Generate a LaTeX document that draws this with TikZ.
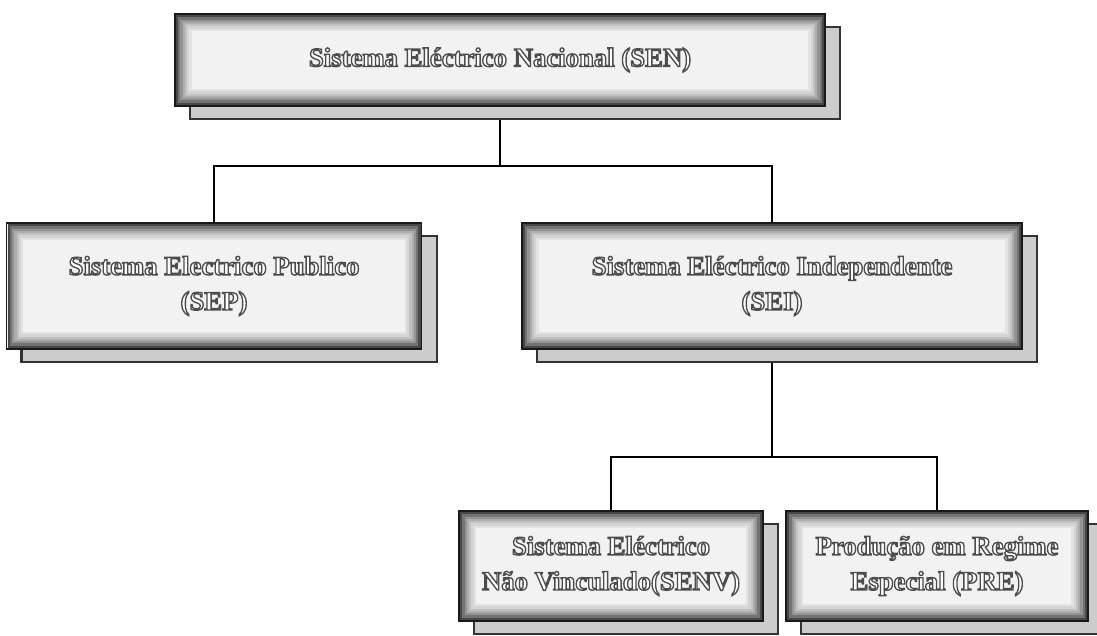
\documentclass[tikz,border=0pt]{standalone}
\usepackage{fontspec}
\setmainfont{Liberation Serif}
\newfontfamily\outlfont{Liberation Serif}[UprightFont={* Bold},FakeBold=5]
\usetikzlibrary{positioning,shadows,backgrounds}
% white letters with a grey stroke round them
\newcommand{\greystroke}{\color{white}\special{pdf:literal direct 0.3 G}}

\begin{document}
\begin{tikzpicture}[x=0.025cm,y=-0.025cm,
  sysbox/.style={rectangle,inner sep=0pt,align=center,
    font=\fontsize{19}{25}\selectfont\outlfont,
    execute at begin node=\greystroke,
    fill=black!5,draw=black!90,line width=1.2pt,
    general shadow={fill=black!20,draw=black!80,line width=1.5pt,
      shadow xshift=0.375cm,shadow yshift=-0.325cm},
    path picture={\foreach \i/\c in {1/72,2/55,3/42,4/32,5/24,6/17,7/11}{
      \draw[black!\c,line width=1.7pt]
        ([shift={({\i*1.6pt},{\i*1.6pt})}]path picture bounding box.south west) rectangle
        ([shift={({-\i*1.6pt},{-\i*1.6pt})}]path picture bounding box.north east);}}},
  conn/.style={line width=2pt,black}
]
\useasboundingbox (0,0) rectangle (1097,636);

% Top: national system
\node[sysbox,minimum width=16.25cm,minimum height=2.3cm] (sen) at (500,60)
  {Sistema Eléctrico Nacional (SEN)};

% Second level: public and independent systems
\node[sysbox,minimum width=10.375cm,minimum height=3.15cm] (sep) at (214,286)
  {Sistema Electrico Publico\\(SEP)};
\node[sysbox,minimum width=12.5cm,minimum height=3.15cm] (sei) at (772,286)
  {Sistema Eléctrico Independente\\(SEI)};

% Third level: under SEI
\node[sysbox,minimum width=7.6cm,minimum height=2.75cm] (senv) at (611,566)
  {Sistema Eléctrico\\Não Vinculado(SENV)};
\node[sysbox,minimum width=7.55cm,minimum height=2.75cm] (pre) at (937,566)
  {Produção em Regime\\Especial (PRE)};

% Junctions
\coordinate (jtop) at (500,166);
\coordinate (jbot) at (772,457);

% Connectors (behind the boxes)
\begin{scope}[on background layer]
\draw[conn] (sen.south) -- (jtop);
\draw[conn] (sep.north) |- (jtop) -| (sei.north);
\draw[conn] (sei.south) -- (jbot);
\draw[conn] (senv.north) |- (jbot) -| (pre.north);
\end{scope}

\end{tikzpicture}
\end{document}
